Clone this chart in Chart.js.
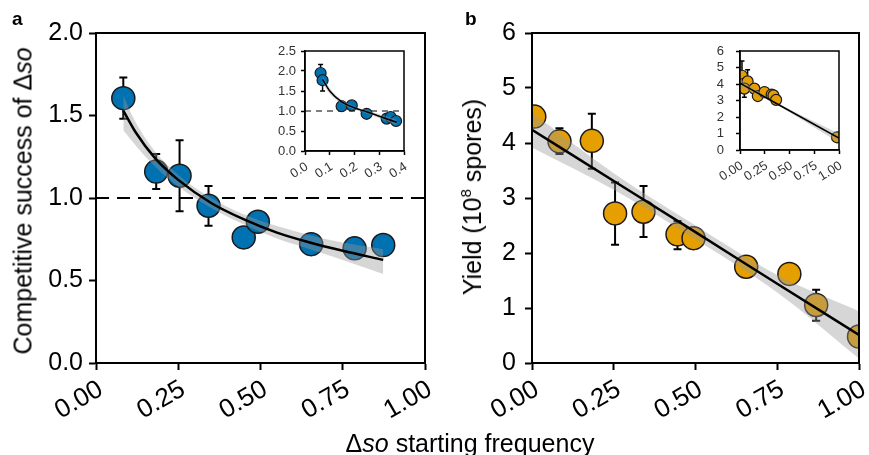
<!DOCTYPE html>
<html><head><meta charset="utf-8">
<script src="https://cdn.jsdelivr.net/npm/chart.js@4.4.1/dist/chart.umd.min.js"></script>
<style>
html,body{margin:0;padding:0;background:#fff;}
#wrap{position:relative;width:869px;height:455px;overflow:hidden;font-family:"Liberation Sans",Arial,sans-serif;background:#fff;}
canvas{position:absolute;}
.t{position:absolute;white-space:nowrap;color:#000;line-height:25px;font-size:25px;}
</style></head><body><div id="wrap">
<canvas id="ca"></canvas>
<canvas id="cb"></canvas>
<canvas id="cai"></canvas>
<canvas id="cbi"></canvas>
<div class="t" style="left:12px;top:9px;font-size:19px;font-weight:bold;line-height:19px;">a</div>
<div class="t" style="left:465px;top:9px;font-size:19px;font-weight:bold;line-height:19px;">b</div>
<div class="t" style="left:23px;top:201px;transform:translate(-50%,-50%) rotate(-90deg);">Competitive success of Δ<i>so</i></div>
<div class="t" style="left:474px;top:197px;transform:translate(-50%,-50%) rotate(-90deg);">Yield (10<span style="font-size:15px;position:relative;top:-10px;">8</span> spores)</div>
<div class="t" style="left:470px;top:431px;transform:translateX(-50%);">Δ<i>so</i> starting frequency</div>
</div>
<script>
// ---------- Panel a (main) ----------
const aX=[0.083,0.183,0.254,0.342,0.449,0.492,0.654,0.786,0.873];
const aY=[1.605,1.16,1.135,0.953,0.761,0.856,0.72,0.695,0.715];
const aErrLo=[1.48,1.055,0.92,0.832,null,null,null,null,null];
const aErrHi=[1.73,1.267,1.35,1.073,null,null,null,null,null];
const aFitX=[0.083,0.12,0.18,0.25,0.35,0.45,0.55,0.65,0.75,0.873];
const aFitY=[1.53,1.40,1.24,1.11,0.97,0.87,0.79,0.73,0.68,0.625];
const aBandHi=[1.62,1.46,1.28,1.14,1.00,0.90,0.83,0.775,0.73,0.69];
const aBandLo=[1.41,1.32,1.19,1.07,0.94,0.84,0.755,0.69,0.625,0.54];
const aYTicks=[0,0.5,1,1.5,2];
const mainXTicks=[0,0.25,0.5,0.75,1];

// ---------- Panel a (inset) ----------
const aInX=[0.063,0.071,0.148,0.189,0.249,0.33,0.346,0.368];
const aInY=[1.95,1.77,1.12,1.14,0.93,0.81,0.85,0.75];
const aInErrLo=[null,1.5,null,null,null,null,null,null];
const aInErrHi=[2.16,null,null,null,null,null,null,null];
const aInFitX=[0.071,0.1,0.148,0.2,0.249,0.3,0.37];
const aInFitY=[1.79,1.5,1.23,1.08,0.98,0.87,0.72];
const aInBandHi=[1.88,1.57,1.28,1.12,1.02,0.92,0.79];
const aInBandLo=[1.70,1.43,1.18,1.04,0.94,0.82,0.65];
const aInXTicks=[0,0.1,0.2,0.3,0.4];
const aInYTicks=[0,0.5,1,1.5,2,2.5];

// ---------- Panel b (main) ----------
const bX=[0.007,0.084,0.183,0.254,0.341,0.445,0.494,0.655,0.787,0.869,1.0];
const bY=[4.48,4.03,4.04,2.72,2.75,2.34,2.27,1.75,1.62,1.055,0.48];
const bErrLo=[null,3.80,3.53,2.15,2.29,2.07,null,null,null,0.77,null];
const bErrHi=[null,4.27,4.53,3.28,3.22,2.58,null,null,null,1.33,null];
const bFitX=[0,0.25,0.5,0.75,1];
const bFitY=[4.24,3.31,2.38,1.44,0.51];
const bBandHi=[4.55,3.45,2.50,1.60,0.94];
const bBandLo=[3.92,3.15,2.25,1.28,0.08];
const bYTicks=[0,1,2,3,4,5,6];

// ---------- Panel b (inset) ----------
const bInX=[0.02,0.033,0.077,0.044,0.145,0.18,0.247,0.32,0.338,0.365,0.98];
const bInY=[4.5,4.0,4.16,3.72,3.72,3.27,3.51,3.36,3.31,3.04,0.77];
const bInErrLo=[null,null,null,3.2,null,3.05,null,null,null,null,null];
const bInErrHi=[5.4,null,4.86,null,null,null,null,null,null,null,null];
const bInFitX=[0,0.35,1];
const bInFitY=[4.05,2.88,0.72];
const bInBandHi=[4.3,2.96,1.0];
const bInBandLo=[3.8,2.80,0.44];
const bInYTicks=[0,1,2,3,4,5,6];
const bInXTicks=[0,0.25,0.5,0.75,1];

const FONT='"Liberation Sans", Arial, sans-serif';
const BLUE='#0072B2', ORANGE='#E69F00', BAND='rgba(153,153,153,0.4)';

Chart.register({id:'frame',afterDraw(chart,args,o){
  if(!o||!o.lw)return;const {ctx,chartArea:a}=chart;
  ctx.save();ctx.strokeStyle='#000';ctx.lineWidth=o.lw;
  ctx.strokeRect(a.left,a.top,a.right-a.left,a.bottom-a.top);ctx.restore();
}});
Chart.register({id:'errbars',beforeDatasetsDraw(chart,args,o){
  if(!o||!o.xs)return;
  const {ctx,chartArea:a}=chart;const x=chart.scales.x,y=chart.scales.y;
  ctx.save();ctx.strokeStyle='#000';
  if(o.refY!=null){
    ctx.setLineDash(o.dash);ctx.lineWidth=o.refLw;
    const py=y.getPixelForValue(o.refY);
    ctx.beginPath();ctx.moveTo(a.left,py);ctx.lineTo(a.right,py);ctx.stroke();
    ctx.setLineDash([]);
  }
  ctx.lineWidth=o.lw;
  o.xs.forEach((xv,i)=>{
    const px=x.getPixelForValue(xv),pc=y.getPixelForValue(o.ys[i]);
    [o.lo[i],o.hi[i]].forEach(v=>{
      if(v==null)return;const p=y.getPixelForValue(v);
      ctx.beginPath();ctx.moveTo(px,pc);ctx.lineTo(px,p);
      ctx.moveTo(px-o.cap,p);ctx.lineTo(px+o.cap,p);ctx.stroke();
    });
  });
  ctx.restore();
}});

function axis(isX,min,max,ticks,dec,size,st){
  return {type:'linear',min:min,max:max,
    afterBuildTicks:s=>{s.ticks=ticks.map(v=>({value:v}));},
    afterFit:s=>{if(isX)s.height=size;else s.width=size;
      s.paddingLeft=0;s.paddingRight=0;s.paddingTop=0;s.paddingBottom=0;},
    grid:{display:true,drawOnChartArea:false,drawTicks:true,tickLength:st.tl,tickWidth:st.lw,tickColor:'#000',color:'#000'},
    border:{display:true,color:'#000',width:st.lw},
    ticks:{autoSkip:false,color:st.tc,padding:isX?st.xpad:st.ypad,labelOffset:isX?st.xoff:0,
      font:{family:FONT,size:isX?st.xfs:st.fs},
      maxRotation:isX?st.rot:0,minRotation:isX?st.rot:0,
      callback:v=>Number(v).toFixed(dec)}
  };
}

function build(id,g,d,st){
  const c=document.getElementById(id);
  const left=g.L-g.yW,top=g.T-g.pT,w=g.R-left+g.pR,h=g.B-top+g.xH;
  c.width=w;c.height=h;
  Object.assign(c.style,{left:left+'px',top:top+'px',width:w+'px',height:h+'px'});
  const pts=d.x.map((v,i)=>({x:v,y:d.y[i]}));
  const fit=d.fx.map((v,i)=>({x:v,y:d.fy[i]}));
  const hi=d.fx.map((v,i)=>({x:v,y:d.hi[i]}));
  const lo=d.fx.map((v,i)=>({x:v,y:d.lo[i]}));
  new Chart(c,{type:'line',data:{datasets:[
    {data:pts,showLine:false,pointRadius:st.r,pointHoverRadius:st.r,pointBackgroundColor:st.color,
     pointBorderColor:'#1a1a1a',pointBorderWidth:st.pbw,borderColor:'rgba(0,0,0,0)',order:3,clip:0},
    {data:hi,borderWidth:0,borderColor:'rgba(0,0,0,0)',pointRadius:0,fill:'+1',backgroundColor:BAND,cubicInterpolationMode:'monotone',order:2},
    {data:lo,borderWidth:0,borderColor:'rgba(0,0,0,0)',pointRadius:0,fill:false,cubicInterpolationMode:'monotone',order:2},
    {data:fit,borderColor:'#000',borderWidth:st.flw,pointRadius:0,fill:false,cubicInterpolationMode:'monotone',order:1}
  ]},
  options:{responsive:false,maintainAspectRatio:false,devicePixelRatio:1,animation:false,events:[],
    layout:{padding:{top:g.pT,right:g.pR,left:0,bottom:0}},
    plugins:{legend:{display:false},tooltip:{enabled:false},
      errbars:{xs:d.x,ys:d.y,lo:d.elo,hi:d.ehi,cap:st.cap,lw:st.elw,refY:d.refY,dash:st.dash,refLw:st.refLw},
      frame:{lw:st.lw}},
    scales:{x:axis(true,d.xmin,d.xmax,d.xt,d.xdec,g.xH,st),y:axis(false,d.ymin,d.ymax,d.yt,d.ydec,g.yW,st)}
  }});
}

const mainSt={tl:7,lw:2,tc:'#000',fs:25,xfs:26,xpad:4,ypad:6,xoff:5,rot:30,r:11.5,pbw:1.5,flw:2.5,cap:4,elw:2,dash:[13,8],refLw:2};
const inSt={tl:4,lw:1.5,tc:'#333',fs:13,xfs:13,xpad:4,ypad:5,xoff:2,rot:32,r:5.5,pbw:1.2,flw:1.5,cap:2.5,elw:1.5,dash:[6,5],refLw:1.2};

build('ca',{L:96,T:33,R:425,B:363,yW:96,xH:72,pT:18,pR:13},
  {x:aX,y:aY,elo:aErrLo,ehi:aErrHi,fx:aFitX,fy:aFitY,hi:aBandHi,lo:aBandLo,
   xmin:0,xmax:1,ymin:0,ymax:2,xt:mainXTicks,yt:aYTicks,xdec:2,ydec:1,refY:1},
  Object.assign({},mainSt,{color:BLUE}));
build('cb',{L:532,T:33,R:859,B:363,yW:60,xH:72,pT:18,pR:13},
  {x:bX,y:bY,elo:bErrLo,ehi:bErrHi,fx:bFitX,fy:bFitY,hi:bBandHi,lo:bBandLo,
   xmin:0,xmax:1,ymin:0,ymax:6,xt:mainXTicks,yt:bYTicks,xdec:2,ydec:0,refY:null},
  Object.assign({},mainSt,{color:ORANGE,ypad:9}));
build('cai',{L:305,T:51,R:404,B:151,yW:36,xH:40,pT:8,pR:8},
  {x:aInX,y:aInY,elo:aInErrLo,ehi:aInErrHi,fx:aInFitX,fy:aInFitY,hi:aInBandHi,lo:aInBandLo,
   xmin:0,xmax:0.4,ymin:0,ymax:2.5,xt:aInXTicks,yt:aInYTicks,xdec:1,ydec:1,refY:1},
  Object.assign({},inSt,{color:BLUE}));
build('cbi',{L:740,T:51,R:839,B:150,yW:32,xH:40,pT:8,pR:8},
  {x:bInX,y:bInY,elo:bInErrLo,ehi:bInErrHi,fx:bInFitX,fy:bInFitY,hi:bInBandHi,lo:bInBandLo,
   xmin:0,xmax:1,ymin:0,ymax:6,xt:bInXTicks,yt:bInYTicks,xdec:2,ydec:0,refY:null},
  Object.assign({},inSt,{color:ORANGE,ypad:12}));
</script></body></html>
